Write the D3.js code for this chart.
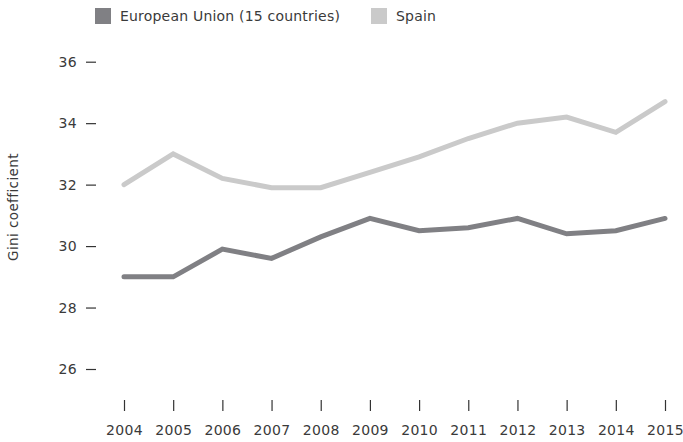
<!DOCTYPE html>
<html><head><meta charset="utf-8">
<script src="https://cdn.jsdelivr.net/npm/d3@7"></script>
<style>body{margin:0;background:#fff}svg{display:block}text{font-family:"DejaVu Sans",sans-serif;fill:#3a3a3a}</style>
</head><body><svg id="c" width="683" height="442"></svg>
<script>
const years = [2004,2005,2006,2007,2008,2009,2010,2011,2012,2013,2014,2015];
const euValues = [29.0,29.0,29.9,29.6,30.3,30.9,30.5,30.6,30.9,30.4,30.5,30.9];
const spainValues = [32.0,33.0,32.2,31.9,31.9,32.4,32.9,33.5,34.0,34.2,33.7,34.7];
const yTicks = [26,28,30,32,34,36];
const seriesNames = ["European Union (15 countries)","Spain"];
const colors = ["#808084","#cacaca"];

const svg = d3.select("#c");
const x = d3.scalePoint().domain(years).range([124,665]);
const y = d3.scaleLinear().domain([26,36]).range([369,61.7]);

// y axis
const ya = svg.append("g").attr("transform","translate(96,0)")
  .call(d3.axisLeft(y).tickValues(yTicks).tickSize(10).tickPadding(9));
ya.select(".domain").remove();
ya.selectAll("line").attr("stroke","#333").attr("stroke-width",1.2);
ya.selectAll("text").style("font-size","14px").attr("fill","#3a3a3a").style("font-family","DejaVu Sans").style("letter-spacing","0.3px");

// x axis
const xa = svg.append("g").attr("transform","translate(0,400)")
  .call(d3.axisBottom(x).tickSize(11).tickPadding(14).tickFormat(d=>d));
xa.select(".domain").remove();
xa.selectAll("line").attr("stroke","#333").attr("stroke-width",1.2);
xa.selectAll("text").style("font-size","14px").attr("fill","#3a3a3a").style("font-family","DejaVu Sans").style("letter-spacing","0.3px");

svg.append("text").attr("transform","translate(18,207) rotate(-90)")
  .attr("text-anchor","middle").style("font-size","13.5px").style("letter-spacing","0.4px").text("Gini coefficient");

const line = d3.line().x((d,i)=>x(years[i])).y(d=>y(d));
[spainValues, euValues].forEach((vals,k)=>{
  const idx = k===0?1:0;
  svg.append("path").datum(vals).attr("d",line).attr("fill","none")
    .attr("stroke",colors[idx]).attr("stroke-width",5).attr("stroke-linecap","round").attr("stroke-linejoin","miter");
});

// legend
const legX = [95,371];
seriesNames.forEach((n,i)=>{
  svg.append("rect").attr("x",legX[i]).attr("y",8).attr("width",16).attr("height",16).attr("fill",colors[i]);
  svg.append("text").attr("x",legX[i]+25).attr("y",21).style("font-size","14px").style("letter-spacing","0.2px").text(n);
});
</script></body></html>
